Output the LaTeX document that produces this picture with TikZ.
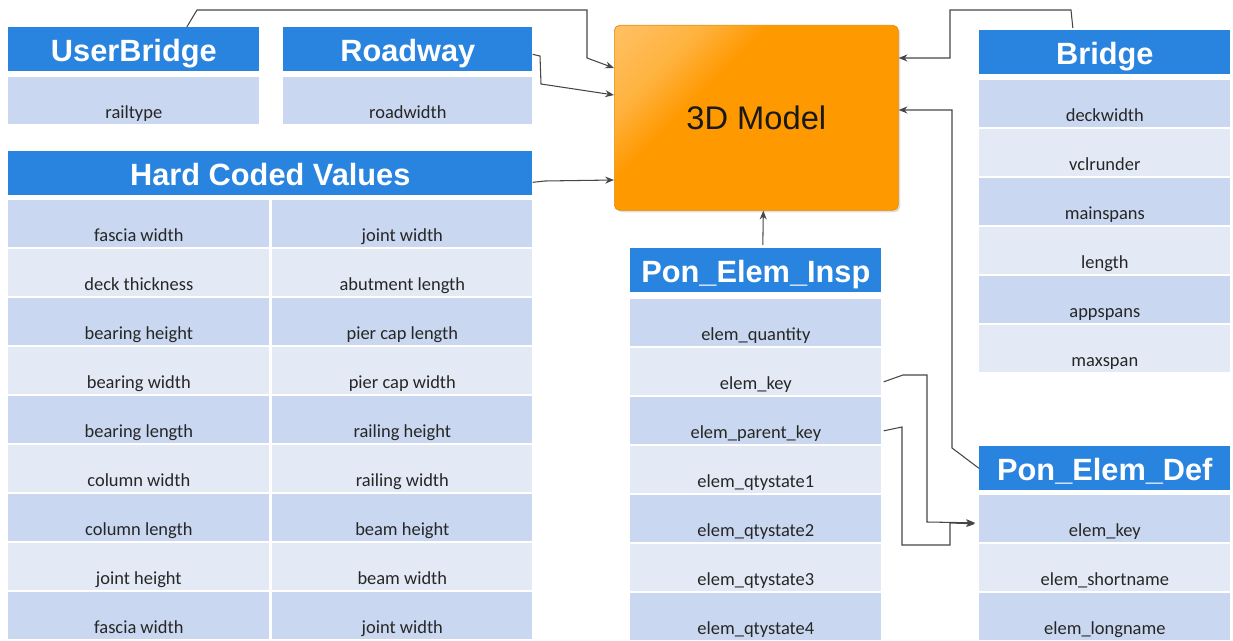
\documentclass[tikz,border=0pt]{standalone}
\usepackage{fontspec}
\setmainfont{Carlito}
\newfontfamily\headfont{Liberation Sans}
\usetikzlibrary{calc,arrows.meta,shadows}

\definecolor{hdrblue}{RGB}{40,132,222}
\definecolor{rowdark}{RGB}{201,216,240}
\definecolor{rowlight}{RGB}{227,234,246}
\definecolor{modelorange}{RGB}{255,153,0}
\definecolor{wire}{RGB}{70,70,70}

% soft highlight in the upper left corner of the model box
\pgfdeclareverticalshading{modelglow}{100bp}{color(0bp)=(modelorange); color(62bp)=(modelorange); color(72bp)=(modelorange!75!white); color(100bp)=(modelorange!45!white)}

\tikzset{
  hdr/.style={anchor=north west, fill=hdrblue, text=white, inner sep=0pt,
    minimum width=5.02cm, text height=0.68cm, text depth=0.2cm,
    font=\headfont\fontsize{17.5}{20}\selectfont\bfseries},
  cell/.style={anchor=north west, inner sep=0pt, minimum width=5.02cm,
    text height=0.83cm, text depth=0.11cm, text=black!85,
    font=\fontsize{10.5}{12}\selectfont},
  model/.style={anchor=north west, rounded corners=3pt, shade, shading=modelglow,
    shading angle=45, draw=modelorange!90!black, line width=0.4pt,
    minimum width=5.68cm, minimum height=3.7cm, text=black!90,
    drop shadow={shadow xshift=0.04cm, shadow yshift=-0.04cm, opacity=0.25},
    font=\headfont\fontsize{18.6}{22}\selectfont},
  link/.style={draw=wire, line width=0.6pt, -{Stealth[length=5pt,width=4pt]}}
}

\begin{document}
\begin{tikzpicture}[x=0.02cm, y=-0.02cm]
\useasboundingbox (0,0) rectangle (1233,641);

% left hand tables
\node[hdr] (ub) at (8,27) {UserBridge};
\node[cell, fill=rowdark] (ub1) at (8,77) {railtype};
\node[hdr, minimum width=4.98cm] (rw) at (283,27) {Roadway};
\node[cell, fill=rowdark, minimum width=4.98cm] (rw1) at (283,77) {roadwidth};

\node[hdr, minimum width=10.48cm] (hcv) at (8,151) {Hard Coded Values};
\foreach \i/\c/\a/\b in {0/rowdark/fascia width/joint width,
  1/rowlight/deck thickness/abutment length, 2/rowdark/bearing height/pier cap length,
  3/rowlight/bearing width/pier cap width, 4/rowdark/bearing length/railing height,
  5/rowlight/column width/railing width, 6/rowdark/column length/beam height,
  7/rowlight/joint height/beam width, 8/rowdark/fascia width/joint width}
{
  \node[cell, fill=\c, minimum width=5.22cm] (hcl\i) at (8,{200+49*\i}) {\a};
  \node[cell, fill=\c, minimum width=5.2cm] (hcr\i) at (272,{200+49*\i}) {\b};
}

% the model
\node[model] (model) at (614,25) {3D Model};

% inspection table
\node[hdr] (insp) at (630,248) {Pon\_Elem\_Insp};
\foreach \i/\c/\t in {1/rowdark/elem\_quantity, 2/rowlight/elem\_key,
  3/rowdark/elem\_parent\_key, 4/rowlight/elem\_qtystate1,
  5/rowdark/elem\_qtystate2, 6/rowlight/elem\_qtystate3, 7/rowdark/elem\_qtystate4}
  \node[cell, fill=\c] (insp\i) at (630,{250+49*\i}) {\t};

% right hand tables
\node[hdr] (bridge) at (979,30) {Bridge};
\foreach \i/\c/\t in {1/rowdark/deckwidth, 2/rowlight/vclrunder, 3/rowdark/mainspans,
  4/rowlight/length, 5/rowdark/appspans, 6/rowlight/maxspan}
  \node[cell, fill=\c] (bridge\i) at (979,{31+49*\i}) {\t};

\node[hdr] (def) at (979,446) {Pon\_Elem\_Def};
\foreach \i/\c/\t in {1/rowdark/elem\_key, 2/rowlight/elem\_shortname, 3/rowdark/elem\_longname}
  \node[cell, fill=\c] (def\i) at (979,{446+49*\i}) {\t};

% links into the model
\draw[link] ($(ub.north)+(53,0)$) -- (197,10) -- (587,10) -- (587,58) -- ($(model.north west)+(0,43)$);
\draw[link] ($(rw.east)+(0,5)$) -- (540,56) -- (541,84) -- ($(model.north west)+(0,70)$);
\draw[link] ($(hcv.east)+(0,9)$) -- (545,181) -- ($(model.north west)+(0,155)$);
\draw[link] ($(bridge.north)+(-32,-2)$) -- (1071,10) -- (950,10) -- (950,58) -- ($(model.north east)+(0,33)$);
\draw[link] (def.west) -- (952,448) -- (952,110) -- ($(model.north east)+(0,85)$);
\draw[link] ($(insp.north)+(7,-3)$) -- ($(model.south)+(7,0)$);

% key links between the two element tables
\draw[link] ($(insp2.east)+(2,10)$) -- (903,375) -- (927,375) -- (927,522) -- ($(def1.west)+(-4,4)$);
\draw[link] ($(insp3.east)+(2,10)$) -- (902,427) -- (902,545) -- (950,545) -- (950,523) -- ($(def1.west)+(-4,5)$);
\end{tikzpicture}
\end{document}
